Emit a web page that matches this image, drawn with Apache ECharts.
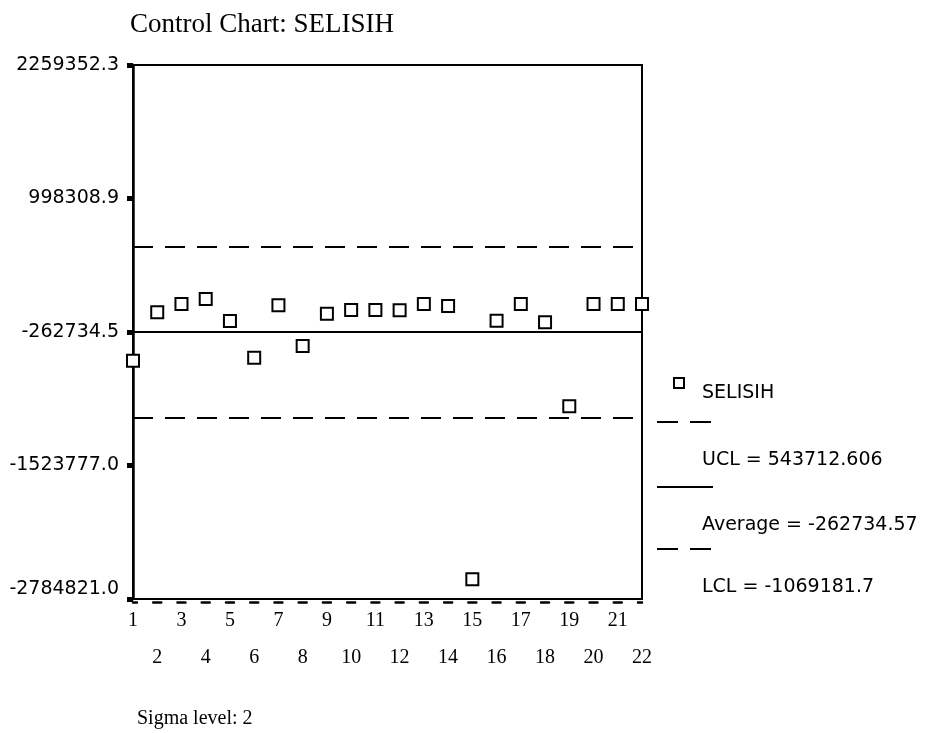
<!DOCTYPE html>
<html>
<head>
<meta charset="utf-8">
<script src="https://cdn.jsdelivr.net/npm/echarts@6/dist/echarts.min.js"></script>
<style>html,body{margin:0;padding:0;background:#fff}#c{width:925px;height:733px}</style>
</head>
<body>
<div id="c"></div>
<script>
const categories = ['1','2','3','4','5','6','7','8','9','10','11','12','13','14','15','16','17','18','19','20','21','22'];
const selisih = [-533500, -76900, 1700, 49000, -158800, -505200, -10800, -395000, -89500, -55000, -55000, -58000, 1700, -17100, -2598700, -155700, 1700, -171400, -964900, 1700, 1700, 1700];
const ucl = 543712.606;
const average = -262734.57;
const lcl = -1069181.7;
const yTickValues = [-2784821.0, -1523777.0, -262734.5, 998308.9, 2259352.3];
const yTickLabels = ['-2784821.0', '-1523777.0', '-262734.5', '998308.9', '2259352.3'];
const legendLabels = ['SELISIH', 'UCL = 543712.606', 'Average = -262734.57', 'LCL = -1069181.7'];
const titleText = 'Control Chart: SELISIH';
const footText = 'Sigma level: 2';

const SANS = 'DejaVu Sans';
const SERIF = 'Liberation Serif';

const chart = echarts.init(document.getElementById('c'), null, {renderer: 'canvas'});

function nearestTick(v) {
  let best = 0;
  for (let i = 1; i < yTickValues.length; i++) {
    if (Math.abs(yTickValues[i] - v) < Math.abs(yTickValues[best] - v)) best = i;
  }
  return best;
}

const legendText = (t, y) => ({
  type: 'text', x: 702, y: y,
  style: {text: t, fill: '#000', font: '19px "' + SANS + '"', textVerticalAlign: 'middle', verticalAlign: 'middle'}
});

chart.setOption({
  animation: false,
  backgroundColor: '#fff',
  title: [
    {text: titleText, left: 125, top: 6, textStyle: {fontFamily: SERIF, fontSize: 27, fontWeight: 'normal', color: '#000'}},
    {text: footText, left: 132, top: 704, textStyle: {fontFamily: SERIF, fontSize: 20, fontWeight: 'normal', color: '#000'}}
  ],
  grid: {left: 133, right: 283, top: 65, bottom: 134, show: true, borderColor: '#000', borderWidth: 2, backgroundColor: 'transparent'},
  xAxis: {
    type: 'category',
    data: categories,
    boundaryGap: false,
    position: 'bottom',
    offset: 3,
    axisLine: {show: true, onZero: false, lineStyle: {color: '#000', width: 2.5, type: [8, 16.238], dashOffset: 4}},
    axisTick: {show: false},
    splitLine: {show: false},
    axisLabel: {
      interval: 0, margin: 0, color: '#000', fontFamily: SERIF, fontSize: 20, lineHeight: 37,
      formatter: (v, i) => (i % 2 === 0 ? v : '\n' + v)
    }
  },
  yAxis: {
    type: 'value',
    min: yTickValues[0],
    max: yTickValues[yTickValues.length - 1],
    axisLine: {show: true, lineStyle: {color: '#000', width: 2.5}},
    axisTick: {show: true, customValues: yTickValues, length: 6, lineStyle: {color: '#000', width: 5}},
    splitLine: {show: false},
    axisLabel: {
      customValues: yTickValues,
      margin: 14, color: '#000', fontFamily: SANS, fontSize: 19,
      formatter: (v) => {
        const i = nearestTick(v);
        return i === 0 ? '{low|' + yTickLabels[i] + '}' : yTickLabels[i];
      },
      rich: {low: {fontFamily: SANS, fontSize: 19, color: '#000', padding: [0, 0, 20, 0]}}
    }
  },
  series: [{
    type: 'scatter',
    name: legendLabels[0],
    data: selisih,
    symbol: 'rect',
    symbolSize: 12,
    itemStyle: {color: '#fff', borderColor: '#000', borderWidth: 2, opacity: 1},
    z: 5,
    markLine: {
      silent: true,
      symbol: 'none',
      label: {show: false},
      data: [
        {yAxis: ucl, lineStyle: {color: '#000', width: 1.8, type: [20, 12]}},
        {yAxis: average, lineStyle: {color: '#000', width: 2.2, type: 'solid'}},
        {yAxis: lcl, lineStyle: {color: '#000', width: 1.8, type: [20, 12]}}
      ]
    }
  }],
  graphic: [
    {type: 'rect', shape: {x: 674, y: 378, width: 10, height: 10}, style: {fill: '#fff', stroke: '#000', lineWidth: 2}},
    legendText(legendLabels[0], 393),
    {type: 'line', shape: {x1: 657, y1: 422, x2: 713, y2: 422}, style: {stroke: '#000', lineWidth: 2, lineDash: [21, 12]}},
    legendText(legendLabels[1], 460),
    {type: 'line', shape: {x1: 657, y1: 487, x2: 713, y2: 487}, style: {stroke: '#000', lineWidth: 2}},
    legendText(legendLabels[2], 525),
    {type: 'line', shape: {x1: 657, y1: 549, x2: 713, y2: 549}, style: {stroke: '#000', lineWidth: 2, lineDash: [21, 12]}},
    legendText(legendLabels[3], 587)
  ]
});
</script>
</body>
</html>
